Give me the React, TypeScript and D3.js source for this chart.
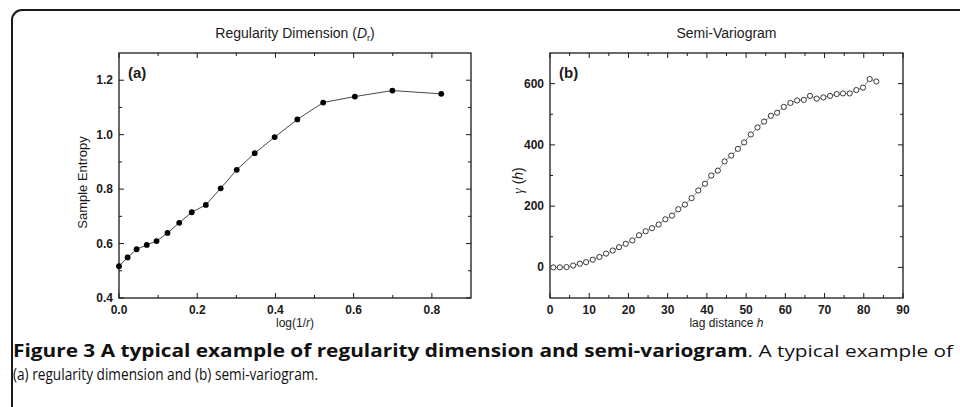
import * as d3 from 'd3'

// (a) regularity dimension: log(1/r) vs sample entropy
const logInvR = [0, 0.022, 0.045, 0.071, 0.096, 0.124, 0.154, 0.186, 0.222, 0.26, 0.301, 0.347, 0.398, 0.456, 0.522, 0.603, 0.699, 0.824]
const sampleEntropy = [0.517, 0.549, 0.579, 0.595, 0.609, 0.639, 0.676, 0.715, 0.742, 0.803, 0.871, 0.932, 0.991, 1.056, 1.118, 1.14, 1.162, 1.15]

// (b) semi-variogram: lag distance h vs gamma(h)
const lagH = [0.85, 2.5, 4.2, 5.9, 7.6, 9.2, 10.9, 12.6, 14.3, 16.0, 17.6, 19.3, 21.0, 22.7, 24.4, 26.0, 27.7, 29.4, 31.1, 32.7,
    34.4, 36.1, 37.8, 39.5, 41.1, 42.8, 44.5, 46.2, 47.9, 49.5, 51.2, 52.9, 54.6, 56.3, 57.9, 59.6, 61.3, 63.0, 64.7, 66.3,
    68.0, 69.7, 71.4, 73.1, 74.7, 76.4, 78.1, 79.8, 81.5, 83.2]
const gammaH = [0, 0, 1, 6, 12, 17, 25, 34, 45, 55, 66, 77, 88, 105, 118, 128, 140, 157, 169, 190,
    205, 226, 251, 273, 300, 316, 346, 365, 387, 408, 434, 457, 476, 495, 505, 524, 537, 545, 547, 560,
    551, 555, 560, 566, 568, 568, 579, 587, 615, 607]

const xTicksA = [0, 0.2, 0.4, 0.6, 0.8]
const xMinorA = [0.1, 0.3, 0.5, 0.7]
const yTicksA = [0.4, 0.6, 0.8, 1.0, 1.2]
const yMinorA = [0.5, 0.7, 0.9, 1.1]
const xTicksB = [0, 10, 20, 30, 40, 50, 60, 70, 80, 90]
const xMinorB = [5, 15, 25, 35, 45, 55, 65, 75, 85]
const yTicksB = [0, 200, 400, 600]
const yMinorB = [100, 300, 500]

const INK = '#1a1a1a'
const AXIS_FONT = 'Arial, "Liberation Sans", sans-serif'
const CAPTION_FONT = "'Open Sans', sans-serif"

function Panel(props: any) {
    const {left, right, top, bottom, xDomain, yDomain, xTicks, xMinor, yTicks, yMinor, xFmt, yFmt, children, tag} = props
    const x = d3.scaleLinear().domain(xDomain).range([left, right])
    const y = d3.scaleLinear().domain(yDomain).range([bottom, top])
    const major = 5, minor = 3
    return (
        <g>
            <rect x={left} y={top} width={right - left} height={bottom - top} fill="none" stroke={INK} strokeWidth={1.3}/>
            {xTicks.map((t: number) => (
                <g key={'xt' + t}>
                    <line x1={x(t)} x2={x(t)} y1={bottom} y2={bottom - major} stroke={INK}/>
                    <line x1={x(t)} x2={x(t)} y1={top} y2={top + major} stroke={INK}/>
                    <text x={x(t)} y={bottom + 16} textAnchor="middle" fontSize={12} fontWeight="bold"
                          fontFamily={AXIS_FONT} fill={INK}>{xFmt(t)}</text>
                </g>
            ))}
            {xMinor.map((t: number) => (
                <g key={'xm' + t}>
                    <line x1={x(t)} x2={x(t)} y1={bottom} y2={bottom - minor} stroke={INK}/>
                    <line x1={x(t)} x2={x(t)} y1={top} y2={top + minor} stroke={INK}/>
                </g>
            ))}
            {yTicks.map((t: number) => (
                <g key={'yt' + t}>
                    <line x1={left} x2={left + major} y1={y(t)} y2={y(t)} stroke={INK}/>
                    <line x1={right} x2={right - major} y1={y(t)} y2={y(t)} stroke={INK}/>
                    <text x={left - 6} y={y(t) + 4} textAnchor="end" fontSize={12} fontWeight="bold"
                          fontFamily={AXIS_FONT} fill={INK}>{yFmt(t)}</text>
                </g>
            ))}
            {yMinor.map((t: number) => (
                <g key={'ym' + t}>
                    <line x1={left} x2={left + minor} y1={y(t)} y2={y(t)} stroke={INK}/>
                    <line x1={right} x2={right - minor} y1={y(t)} y2={y(t)} stroke={INK}/>
                </g>
            ))}
            <text x={left + 9} y={top + 25} fontSize={15} fontWeight="bold" fontFamily={AXIS_FONT} fill={INK}>{tag}</text>
            {children(x, y)}
        </g>
    )
}

export default function App() {
    const pA = {left: 119, right: 471, top: 53, bottom: 298}
    const pB = {left: 550, right: 903, top: 53, bottom: 298}
    return (
        <svg width={960} height={407} style={{position: 'absolute', left: 0, top: 0, background: '#fff'}}>
            <rect x={12} y={10} width={1000} height={430} rx={10} fill="none" stroke={INK} strokeWidth={2}/>

            <text x={(pA.left + pA.right) / 2} y={38} textAnchor="middle" fontSize={14} fontFamily={AXIS_FONT} fill={INK}>
                Regularity Dimension (<tspan fontStyle="italic">D</tspan><tspan fontSize={9} dy={3}>r</tspan><tspan dy={-3}>)</tspan>
            </text>
            <Panel {...pA} xDomain={[0, 0.9]} yDomain={[0.4, 1.3]} xTicks={xTicksA} xMinor={xMinorA}
                   yTicks={yTicksA} yMinor={yMinorA} xFmt={d3.format('.1f')} yFmt={d3.format('.1f')} tag="(a)">
                {(x: any, y: any) => {
                    const line = d3.line<number>().x((d, i) => x(logInvR[i])).y(d => y(d))
                    return (
                        <g>
                            <path d={line(sampleEntropy) || ''} fill="none" stroke="#333" strokeWidth={0.9}/>
                            {sampleEntropy.map((v, i) => (
                                <circle key={i} cx={x(logInvR[i])} cy={y(v)} r={2.9} fill="#000"/>
                            ))}
                        </g>
                    )
                }}
            </Panel>
            <text x={(pA.left + pA.right) / 2} y={327} textAnchor="middle" fontSize={12} fontFamily={AXIS_FONT} fill={INK}>
                log(1/<tspan fontStyle="italic">r</tspan>)
            </text>
            <text transform={`translate(87,${(pA.top + pA.bottom) / 2 + 7}) rotate(-90)`} textAnchor="middle" fontSize={13}
                  fontFamily={AXIS_FONT} fill={INK}>Sample Entropy</text>

            <text x={(pB.left + pB.right) / 2} y={38} textAnchor="middle" fontSize={14} fontFamily={AXIS_FONT} fill={INK}>
                Semi-Variogram
            </text>
            <Panel {...pB} xDomain={[0, 90]} yDomain={[-100, 700]} xTicks={xTicksB} xMinor={xMinorB}
                   yTicks={yTicksB} yMinor={yMinorB} xFmt={d3.format('d')} yFmt={d3.format('d')} tag="(b)">
                {(x: any, y: any) => {
                    const line = d3.line<number>().x((d, i) => x(lagH[i])).y(d => y(d))
                    return (
                        <g>
                            <path d={line(gammaH) || ''} fill="none" stroke="#555" strokeWidth={0.7}/>
                            {gammaH.map((v, i) => (
                                <circle key={i} cx={x(lagH[i])} cy={y(v)} r={2.6} fill="#fff" stroke="#222" strokeWidth={0.9}/>
                            ))}
                        </g>
                    )
                }}
            </Panel>
            <text x={(pB.left + pB.right) / 2} y={327} textAnchor="middle" fontSize={12} fontFamily={AXIS_FONT} fill={INK}>
                lag distance <tspan fontStyle="italic">h</tspan>
            </text>
            <text transform={`translate(523,${(pB.top + pB.bottom) / 2 + 5}) rotate(-90)`} textAnchor="middle" fontSize={14}
                  fontFamily={AXIS_FONT} fill={INK}>
                <tspan fontStyle="italic" fontFamily="'Times New Roman', 'Liberation Serif', serif">γ</tspan> (<tspan fontStyle="italic">h</tspan>)
            </text>

            <text x={13} y={357} fontSize={17} fontFamily={CAPTION_FONT} fill="#111" textLength={940}
                  lengthAdjust="spacingAndGlyphs">
                <tspan fontWeight="bold">Figure 3 A typical example of regularity dimension and semi-variogram</tspan>. A typical example of
            </text>
            <text x={13} y={380} fontSize={17} fontFamily={CAPTION_FONT} fill="#111" textLength={305}
                  lengthAdjust="spacingAndGlyphs">
                (a) regularity dimension and (b) semi-variogram.
            </text>
        </svg>
    )
}
